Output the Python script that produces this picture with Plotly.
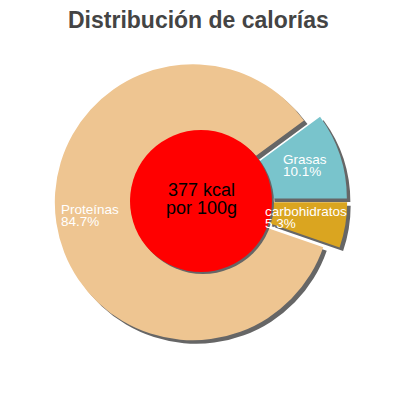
import plotly.graph_objects as go

# datos (orden en sentido horario desde las 3 en punto)
labels = ["carbohidratos", "Proteínas", "Grasas"]
values = [5.3, 84.7, 10.1]
colors = ["#DAA520", "#EEC591", "#79C4CC"]
kcal = 377

# la página tiene un margen de 8px, la figura ocupa 392x392
OFF = 8
W = H = 392
cx, cy = 201, 201          # centro de la tarta en la ventana (px)
R = 138
pull = 0.06
hole = 0.45
r_center = 71
shadow = 3.5
FONT = "Liberation Sans, Arial, sans-serif"


def px(x, y):
    return (x - OFF) / W, 1 - (y - OFF) / H


def dom(x0, y0, half):
    xa, ya = px(x0, y0)
    return dict(x=[xa - half / W, xa + half / W], y=[ya - half / H, ya + half / H])


half = R * (1 + pull)
pie_kw = dict(labels=labels, values=values, sort=False, direction="clockwise",
              rotation=90, hole=hole, pull=[pull] * 3, textinfo="none")

fig = go.Figure()
# sombra
fig.add_trace(go.Pie(**pie_kw, marker=dict(colors=["#666666"] * 3),
                     hoverinfo="skip", domain=dom(cx + shadow, cy + shadow, half)))
fig.add_trace(go.Pie(**pie_kw, marker=dict(colors=colors),
                     hoverinfo="label+percent", domain=dom(cx, cy, half)))
# circulo central
fig.add_trace(go.Pie(values=[1], marker=dict(colors=["#666666"]), textinfo="none",
                     hoverinfo="skip", domain=dom(cx + 2, cy + 2, r_center)))
fig.add_trace(go.Pie(values=[1], marker=dict(colors=["#FF0000"]), textinfo="none",
                     hoverinfo="skip", domain=dom(cx, cy, r_center)))

annotations = []


def text(s, x, y, size, color, anchor="left"):
    ax, ay = px(x, y)
    annotations.append(dict(text=s, x=ax, y=ay, xref="paper", yref="paper",
                            xanchor=anchor, yanchor="middle", showarrow=False,
                            font=dict(family=FONT, size=size, color=color)))


label_pos = {"Grasas": (281, 159, 171), "Proteínas": (59, 209, 221),
             "carbohidratos": (263, 211, 223)}
for lab, val in zip(labels, values):
    x, y1, y2 = label_pos[lab]
    text(lab, x, y1, 13.5, "white")
    text(f"{val}%", x, y2, 13.5, "white")

text(f"{kcal} kcal", 201, 190, 18, "black", "center")
text("por 100g", 201, 208, 18, "black", "center")
text("<b>Distribución de calorías</b>", 198, 20.5, 23, "#444444", "center")

fig.update_layout(
    width=W, height=H,
    margin=dict(l=0, r=0, t=0, b=0),
    paper_bgcolor="white",
    showlegend=False,
    annotations=annotations,
)

fig.write_html("out.html")
